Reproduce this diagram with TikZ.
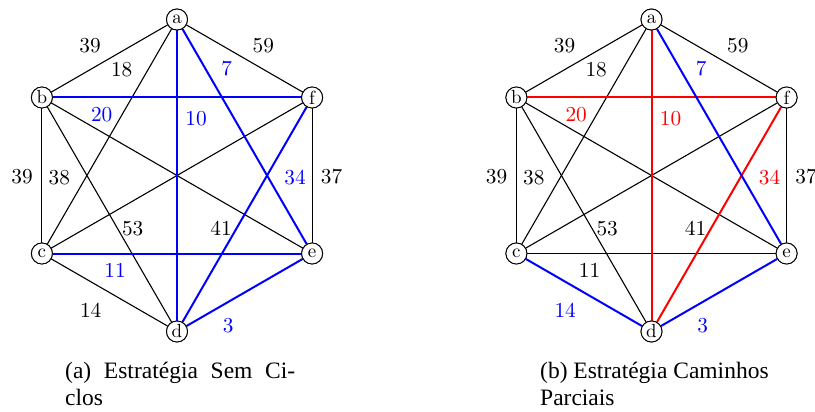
\documentclass[tikz,border=0pt]{standalone}
\usepackage{fontspec}
\newfontfamily\capfont{Liberation Serif}
\newfontfamily\lmten[Extension=.otf]{lmroman10-regular}
\tikzset{
  vtx/.style={circle, draw, line width=0.9pt, fill=white, minimum size=21pt, inner sep=0pt, font=\lmten\fontsize{19}{20}\selectfont},
  edge/.style={line width=1.1pt, black},
  cedge/.style={line width=2pt},
  wt/.style={inner sep=0pt, font=\lmten\fontsize{21.3}{24}\selectfont},
  capt/.style={anchor=base west, inner sep=0pt, font=\capfont\fontsize{23.5}{27}\selectfont},
}
\begin{document}
\begin{tikzpicture}[x=1pt,y=-1pt]
\useasboundingbox (0,0) rectangle (815,412);
% ---------- left graph ----------
\begin{scope}[shift={(177,175.5)}, name prefix=l-]
  \node[vtx] (a) at (0,-156) {a};
  \node[vtx] (b) at (-135.1,-78) {b};
  \node[vtx] (f) at (135.1,-78) {f};
  \node[vtx] (c) at (-135.1,78) {c};
  \node[vtx] (e) at (135.1,78) {e};
  \node[vtx] (d) at (0,156) {d};
  \draw[edge] (a) -- (b);
  \draw[edge] (a) -- (f);
  \draw[edge] (a) -- (c);
  \draw[edge] (b) -- (c);
  \draw[edge] (b) -- (d);
  \draw[edge] (b) -- (e);
  \draw[edge] (f) -- (c);
  \draw[edge] (f) -- (e);
  \draw[edge] (c) -- (d);
  \draw[cedge, blue] (b) -- (f);
  \draw[cedge, blue] (a) -- (d);
  \draw[cedge, blue] (a) -- (e);
  \draw[cedge, blue] (f) -- (d);
  \draw[cedge, blue] (c) -- (e);
  \draw[cedge, blue] (d) -- (e);
  \foreach \n in {a,b,c,d,e,f} \node[vtx] at (\n) {\n};
  \node[wt] (wab) at (-87,-129.5) {39};
  \node[wt] (wac) at (-55.3,-106.2) {18};
  \node[wt] (waf) at (86.3,-129.5) {59};
  \node[wt, blue] (wae) at (49.7,-107.2) {7};
  \node[wt, blue] (wbf) at (-75.3,-60.5) {20};
  \node[wt, blue] (wad) at (19,-57.2) {10};
  \node[wt] (wbc) at (-155,1.5) {39};
  \node[wt] (wbd) at (-117.7,1.8) {38};
  \node[wt, blue] (wfd) at (118,1.8) {34};
  \node[wt] (wfe) at (154.5,1.5) {37};
  \node[wt] (wfc) at (-44.3,52.8) {53};
  \node[wt] (wbe) at (44,52.8) {41};
  \node[wt, blue] (wce) at (-62,94.5) {11};
  \node[wt] (wcd) at (-86.3,134.5) {14};
  \node[wt, blue] (wde) at (51.3,150.5) {3};
\end{scope}
% ---------- right graph ----------
\begin{scope}[shift={(651.5,175.5)}, name prefix=r-]
  \node[vtx] (a) at (0,-156) {a};
  \node[vtx] (b) at (-135.1,-78) {b};
  \node[vtx] (f) at (135.1,-78) {f};
  \node[vtx] (c) at (-135.1,78) {c};
  \node[vtx] (e) at (135.1,78) {e};
  \node[vtx] (d) at (0,156) {d};
  \draw[edge] (a) -- (b);
  \draw[edge] (a) -- (f);
  \draw[edge] (a) -- (c);
  \draw[edge] (b) -- (c);
  \draw[edge] (b) -- (d);
  \draw[edge] (b) -- (e);
  \draw[edge] (f) -- (c);
  \draw[edge] (f) -- (e);
  \draw[edge] (c) -- (e);
  \draw[cedge, red] (b) -- (f);
  \draw[cedge, red] (a) -- (d);
  \draw[cedge, red] (f) -- (d);
  \draw[cedge, blue] (a) -- (e);
  \draw[cedge, blue] (c) -- (d);
  \draw[cedge, blue] (d) -- (e);
  \foreach \n in {a,b,c,d,e,f} \node[vtx] at (\n) {\n};
  \node[wt] (wab) at (-87,-129.5) {39};
  \node[wt] (wac) at (-55.3,-106.2) {18};
  \node[wt] (waf) at (86.3,-129.5) {59};
  \node[wt, blue] (wae) at (49.7,-107.2) {7};
  \node[wt, red] (wbf) at (-75.3,-60.5) {20};
  \node[wt, red] (wad) at (19,-57.2) {10};
  \node[wt] (wbc) at (-155,1.5) {39};
  \node[wt] (wbd) at (-117.7,1.8) {38};
  \node[wt, red] (wfd) at (118,1.8) {34};
  \node[wt] (wfe) at (154.5,1.5) {37};
  \node[wt] (wfc) at (-44.3,52.8) {53};
  \node[wt] (wbe) at (44,52.8) {41};
  \node[wt] (wce) at (-62,94.5) {11};
  \node[wt, blue] (wcd) at (-86.3,134.5) {14};
  \node[wt, blue] (wde) at (51.3,150.5) {3};
\end{scope}
% ---------- captions ----------
\node[capt] (capa1) at (65,378) {\makebox[230pt][s]{(a) Estratégia Sem Ci-}};
\node[capt] (capa2) at (65,405) {clos};
\node[capt] (capb1) at (540,378) {(b) Estratégia Caminhos};
\node[capt] (capb2) at (540,405) {Parciais};
\end{tikzpicture}
\end{document}
